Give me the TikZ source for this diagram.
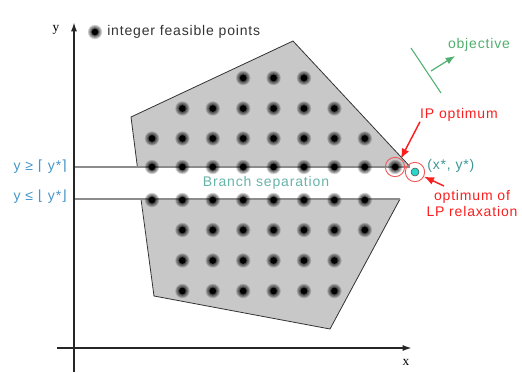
\documentclass[tikz,border=0pt]{standalone}
\usepackage{fontspec}
\setmainfont{Liberation Sans}[LetterSpace=6]
\newfontfamily\axisfont{Liberation Serif}
\newfontfamily\symfont{DejaVu Sans}
\usepackage{tikz}
\usetikzlibrary{arrows.meta,positioning,calc}
\definecolor{hullgray}{RGB}{200,200,200}
\definecolor{ipred}{RGB}{250,30,30}
\definecolor{ringred}{RGB}{240,90,90}
\definecolor{objgreen}{RGB}{80,175,110}
\definecolor{lpteal}{RGB}{60,150,150}
\definecolor{septeal}{RGB}{105,180,170}
\definecolor{bndblue}{RGB}{70,150,200}
\definecolor{lpcyan}{RGB}{40,215,200}
\tikzset{
  axis/.style={-{Latex[length=7pt,width=4.5pt]}, line width=1.3pt, black!85},
  axlabel/.style={font=\axisfont\fontsize{10}{12}\selectfont},
  hull/.style={draw=black!80, line width=0.6pt},
  bandline/.style={draw=black!45, line width=0.8pt},
  txt/.style={font=\fontsize{10.5}{12}\selectfont, inner sep=0pt},
  redring/.style={circle, draw=ringred, line width=0.7pt, minimum size=14.5pt, inner sep=0pt},
  lpdot/.style={circle, draw=black!70, fill=lpcyan, line width=0.4pt, minimum size=6pt, inner sep=0pt},
  redarrow/.style={-{Latex[length=7.5pt,width=6pt]}, ipred, line width=1.1pt},
  objarrow/.style={-{Latex[length=7pt,width=5.5pt]}, objgreen, line width=0.9pt},
  intdot/.pic={
    \foreach \r in {5.4,4.8,4.3,3.8,3.4,3.0}
      \fill[black,opacity=0.16] (0,0) circle (\r pt);
    \fill[black] (0,0) circle (2.5pt);
  },
}

\begin{document}
\begin{tikzpicture}[x=0.75pt,y=-0.75pt]
  \useasboundingbox (0,0) rectangle (522,372);
  % hull corners
  \coordinate (hA) at (131,117);
  \coordinate (hB) at (293,41);
  \coordinate (lpv) at (415,172);
  \coordinate (hC) at (330,329);
  \coordinate (hD) at (154,296);
  % branch cuts
  \coordinate (ceilY) at (74,167);
  \coordinate (ceilL) at (137.4,167);
  \coordinate (ceilR) at (410,167);
  \coordinate (floorY) at (74,199);
  \coordinate (floorL) at (141,199);
  \coordinate (floorR) at (400,199);

  \fill[hullgray] (hA) -- (hB) -- (lpv) -- (hC) -- (hD) -- cycle;
  \fill[white] (ceilY) rectangle (lpv |- floorY);
  \draw[hull, shorten >=6pt] (ceilL) -- (hA) -- (hB) -- (lpv);
  \draw[hull] (floorR) -- (hC) -- (hD) -- (floorL);
  \draw[bandline] (ceilY) -- (ceilR);
  \draw[bandline] (floorY) -- (floorR);

  % axes
  \coordinate (xL) at (57,348);
  \coordinate (xR) at (412,348);
  \coordinate (yB) at (74,372);
  \coordinate (yT) at (74,22);
  \draw[axis] (yB) -- (yT);
  \draw[axis] (xL) -- (xR);
  \node[axlabel] (ylab) at (56,30) {y};
  \node[axlabel] (xlab) at (406,362) {x};

  % integer points
  \foreach \yy/\cols in {78/{3,4,5}, 108.5/{1,...,6}, 138.5/{0,...,7}, 167/{0,...,7},
                         200/{0,...,7}, 230/{1,...,7}, 260.5/{1,...,6}, 291/{1,...,6}}
    \foreach \c in \cols
      \pic at ({152+30.4*\c},\yy) {intdot};
  \pic at ({152+30.4*8},167) {intdot};

  % legend
  \pic at (95,32) {intdot};
  \node[txt, text=black!80, anchor=west] (legend) at (107,32) {integer feasible points};

  % objective
  \coordinate (objA) at (411,48);
  \coordinate (objB) at (441,93);
  \coordinate (objT) at (431,71);
  \coordinate (objH) at (455,56);
  \draw[objgreen, line width=0.8pt] (objA) -- (objB);
  \draw[objarrow] (objT) -- (objH);
  \node[txt, text=objgreen] (objlab) at (479,45) {objective};

  % optima
  \node[redring] (ipring) at (395,167) {};
  \node[lpdot] (lp) at (lpv) {};
  \node[redring] (lpring) at (lpv) {};
  \node[txt, text=lpteal, anchor=west] (lplab) at (427,166) {(x*, y*)};
  \node[txt, text=ipred] (iplab) at (459,115) {IP optimum};
  \draw[redarrow] (iplab.south west) -- (ipring.55);
  \node[txt, text=ipred, align=center] (lprel) at (472,203) {optimum of\\LP relaxation};
  \coordinate (lptail) at (444,186);
  \draw[redarrow] (lptail) -- (lpring.-27);

  % bounds
  \node[txt, text=septeal] (seplab) at (266,183) {Branch separation};
  \node[txt, text=bndblue, anchor=east] (ceillab) at (67,167) {y ≥ {\symfont⌈} y*{\symfont⌉}};
  \node[txt, text=bndblue, anchor=east] (floorlab) at (67,197) {y ≤ {\symfont⌊} y*{\symfont⌋}};
\end{tikzpicture}
\end{document}
